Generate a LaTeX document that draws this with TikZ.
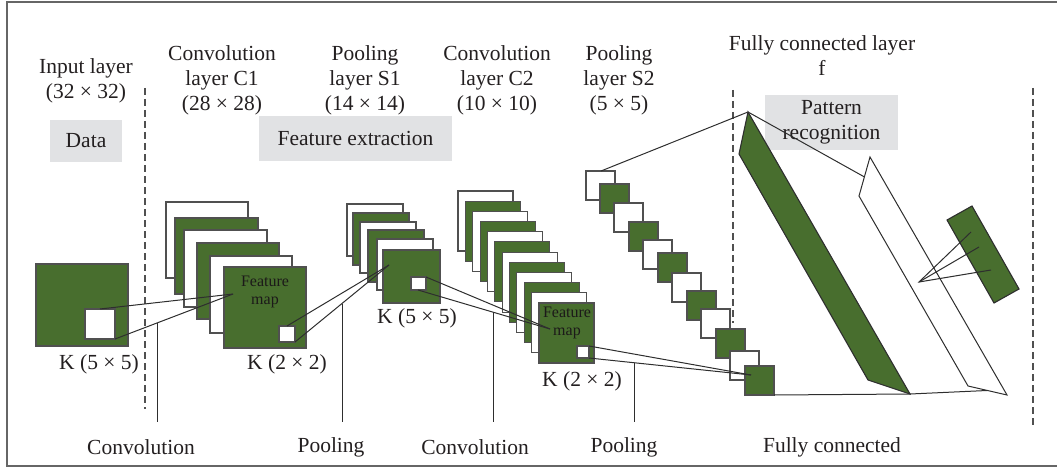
\documentclass[tikz,border=0pt]{standalone}
\usepackage{fontspec}
\setmainfont{Liberation Serif}
\definecolor{fgreen}{HTML}{486E2E}
\definecolor{boxgray}{HTML}{E1E2E4}
\definecolor{linegray}{HTML}{2E2E2E}
\definecolor{edgegray}{HTML}{505050}
\definecolor{txt}{HTML}{231F20}
\begin{document}
\begin{tikzpicture}[x=1pt,y=-1pt,
  gbox/.style={fill=fgreen, draw=edgegray, line width=1.1pt},
  wbox/.style={fill=white, draw=edgegray, line width=1.1pt},
  conn/.style={draw=linegray, line width=1pt},
  sepline/.style={draw=linegray, line width=0.9pt},
  dsep/.style={draw=edgegray, line width=1.1pt, dash pattern=on 7pt off 4pt},
  frameline/.style={draw=black!60, line width=1.5pt},
  lbl/.style={font=\fontsize{21.5}{25}\selectfont, text=txt, align=center, inner sep=0pt},
  small/.style={font=\fontsize{16}{18.5}\selectfont, text=txt!80!black, align=center, inner sep=0pt},
  graybox/.style={fill=boxgray, draw=none, font=\fontsize{21.5}{25}\selectfont, text=txt, align=center, inner sep=0pt}
]
\useasboundingbox (0,0) rectangle (1057,468);
% frame
\draw[frameline] (1057,2) -- (7,2) -- (7,466) -- (1057,466);

% gray boxes
\node[graybox, minimum width=72pt, minimum height=42pt] (data) at (86,141) {Data};
\node[graybox, minimum width=193pt, minimum height=45pt] (fext) at (355.5,138.5) {Feature extraction};
\node[graybox, minimum width=133pt, minimum height=55pt] (prec) at (831.5,122.5) {Pattern\\recognition};

% top labels
\node[lbl] (linput) at (86,81) {Input layer\\(32 × 32)};
\node[lbl] (lc1) at (222,80) {Convolution\\layer C1\\(28 × 28)};
\node[lbl] (ls1) at (365,80) {Pooling\\layer S1\\(14 × 14)};
\node[lbl] (lc2) at (497,80) {Convolution\\layer C2\\(10 × 10)};
\node[lbl] (ls2) at (619,80) {Pooling\\layer S2\\(5 × 5)};
\node[lbl] (lfc) at (822,56) {Fully connected layer\\f};

% bottom labels
\node[lbl] (bconv1) at (141,447) {Convolution};
\node[lbl] (bpool1) at (331,447) {Pooling};
\node[lbl] (bconv2) at (475,447) {Convolution};
\node[lbl] (bpool2) at (624,447) {Pooling};
\node[lbl] (bfc) at (832,447) {Fully connected};

% dashed separators
\coordinate (d1t) at (145,88); \coordinate (d1b) at (145,409);
\coordinate (d2t) at (733,90); \coordinate (d2b) at (733,323);
\coordinate (d3t) at (1033,88); \coordinate (d3b) at (1033,428);
\draw[dsep] (d1t) -- (d1b);
\draw[dsep] (d2t) -- (d2b);
\draw[dsep] (d3t) -- (d3b);

% input layer
\draw[gbox] (36,264) rectangle (128,346);
\draw[wbox] (85,309) rectangle (115,339);
\coordinate (k1a) at (100,309);
\coordinate (k1b) at (115,339);
\node[lbl] (kin) at (99,364) {K (5 × 5)};

% C1 stack
\draw[wbox] (166,202) rectangle (248,278);
\draw[gbox] (175,218) rectangle (258,294);
\draw[wbox] (184,230) rectangle (267,307);
\draw[gbox] (197,243) rectangle (279,319);
\draw[wbox] (210,256) rectangle (292,333);
\draw[gbox] (224,267) rectangle (306,348);
\node[small] (fm1) at (265,292) {Feature\\map};
\coordinate (c1p) at (233,294);
\draw[wbox] (279,326) rectangle (295,342);
\coordinate (k2a) at (287,326);
\coordinate (k2b) at (295,342);
\node[lbl] (kc1) at (287,364) {K (2 × 2)};

% S1 stack
\draw[wbox] (347,204) rectangle (403,256);
\draw[gbox] (353,213) rectangle (409,265);
\draw[wbox] (360,222) rectangle (416,273);
\draw[gbox] (368,230) rectangle (424,282);
\draw[wbox] (377,239) rectangle (433,290);
\draw[gbox] (383,250) rectangle (440,303);
\coordinate (s1p) at (389,265);
\draw[wbox] (411,277) rectangle (426,290);
\coordinate (k3a) at (426,277);
\coordinate (k3b) at (418,290);
\node[lbl] (ks1) at (417,318) {K (5 × 5)};

% C2 stack
\foreach \i in {0,...,10}{
  \pgfmathsetmacro{\xa}{458+7.36*\i}
  \pgfmathsetmacro{\ya}{191+10.18*\i}
  \pgfmathtruncatemacro{\odd}{mod(\i,2)}
  \ifnum\odd=1
    \draw[gbox] (\xa,\ya) rectangle ++(55,60);
  \else
    \draw[wbox] (\xa,\ya) rectangle ++(55,60);
  \fi
}
\draw[gbox] (539,303) rectangle (594,363);
\node[small] (fm2) at (567,323) {Feature\\map};
\coordinate (c2p) at (550,329);
\draw[wbox] (577,346) rectangle (589,358);
\coordinate (k4a) at (589,346);
\coordinate (k4b) at (589,358);
\node[lbl] (kc2) at (582,381) {K (2 × 2)};

% S2 squares
\foreach \px/\py [count=\n] in {586/171, 600/184, 614/203, 629/222, 643/240, 658/253, 672/273, 687/291, 701/309, 716/329, 730/351}{
  \ifodd\n
    \draw[wbox] (\px,\py) rectangle ++(29,29);
  \else
    \draw[gbox] (\px,\py) rectangle ++(29,29);
  \fi
}
\draw[gbox] (745,366) rectangle (774,395);
\coordinate (s2p) at (751,375);
\coordinate (s2top) at (601,171);
\coordinate (s2br) at (774,395);

% fully connected strips
\coordinate (apex) at (748,112);
\coordinate (gbot) at (910,394);
\draw[gbox, draw=linegray] (apex) -- (739,154) -- (868,380) -- (gbot) -- cycle;
\draw[conn, fill=white] (870,157) -- (859,196) -- (968,386) -- (1007,395) -- cycle;
\coordinate (wleft) at (864.5,177);
\coordinate (wbot) at (987,390.5);

% output
\draw[gbox, draw=linegray] (947,220) -- (972,206) -- (1019,289) -- (994,303) -- cycle;
\coordinate (op) at (919,282);
\coordinate (o1) at (971,232);
\coordinate (o2) at (979,247);
\coordinate (o3) at (991,270);

% connectors
\draw[conn] (k1a) -- (c1p);
\draw[conn] (k1b) -- (c1p);
\draw[conn] (k2a) -- (s1p);
\draw[conn] (k2b) -- (s1p);
\draw[conn] (k3a) -- (c2p);
\draw[conn] (k3b) -- (c2p);
\draw[conn] (k4a) -- (s2p);
\draw[conn] (k4b) -- (s2p);
\draw[conn] (s2top) -- (apex) -- (wleft);
\draw[conn] (s2br) -- (gbot) -- (wbot);
\draw[conn] (o1) -- (op) -- (o3);
\draw[conn] (op) -- (o2);

% separators
\draw[sepline] (157,323) -- (157,422);
\draw[sepline] (342,303.5) -- (342,422);
\draw[sepline] (493,312.2) -- (493,422);
\draw[sepline] (634,362.7) -- (634,422);
\end{tikzpicture}
\end{document}
